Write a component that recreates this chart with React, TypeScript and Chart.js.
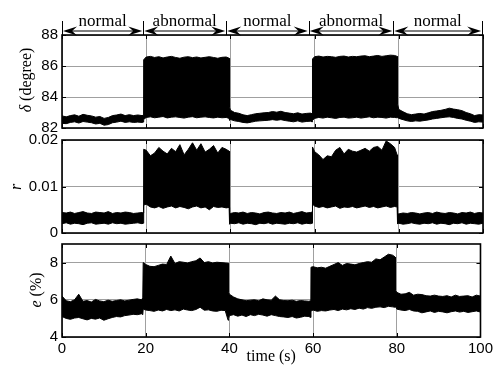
import React, { useEffect, useRef } from 'react';
import { Chart, registerables } from 'chart.js';

Chart.register(...registerables);

// ---------------- data ----------------
const timeS = [
  0, 1, 2, 3, 4, 5, 6, 7, 8, 9, 10, 11, 12, 13, 14, 15, 16, 17, 18, 19, 19.3,
  19.4, 20, 21, 22, 23, 24, 25, 26, 27, 28, 29, 30, 31, 32, 33, 34, 35, 36, 37, 38, 39, 39.7,
  39.8, 40, 41, 42, 43, 44, 45, 46, 47, 48, 49, 50, 51, 52, 53, 54, 55, 56, 57, 58, 59, 59.4,
  59.5, 60, 61, 62, 63, 64, 65, 66, 67, 68, 69, 70, 71, 72, 73, 74, 75, 76, 77, 78, 79, 79.6,
  79.7, 80, 81, 82, 83, 84, 85, 86, 87, 88, 89, 90, 91, 92, 93, 94, 95, 96, 97, 98, 99, 100,
];

// delta (degree): upper / lower envelope of the signal
const deltaUpper = [
  82.78, 82.72, 82.80, 82.85, 82.76, 82.88, 82.82, 82.78, 82.70, 82.74, 82.62, 82.68, 82.80, 82.84, 82.90, 82.80, 82.86, 82.80, 82.84, 82.80, 82.82,
  86.40, 86.58, 86.62, 86.55, 86.60, 86.52, 86.58, 86.62, 86.55, 86.50, 86.57, 86.60, 86.54, 86.58, 86.52, 86.56, 86.60, 86.55, 86.50, 86.56, 86.58, 86.50,
  83.35, 83.15, 83.00, 82.95, 82.85, 82.80, 82.86, 82.92, 82.95, 82.98, 83.00, 83.06, 83.02, 83.08, 83.00, 82.96, 82.92, 82.98, 82.90, 82.94, 82.96, 82.92,
  86.45, 86.60, 86.64, 86.58, 86.62, 86.60, 86.56, 86.62, 86.64, 86.58, 86.62, 86.60, 86.64, 86.66, 86.60, 86.64, 86.68, 86.62, 86.66, 86.70, 86.68, 86.62,
  83.55, 83.20, 83.05, 82.92, 82.86, 82.90, 82.94, 82.90, 82.98, 83.06, 83.10, 83.14, 83.20, 83.28, 83.22, 83.18, 83.12, 83.00, 82.92, 82.80, 82.86, 82.84,
];
const deltaLower = [
  82.30, 82.28, 82.36, 82.40, 82.32, 82.42, 82.38, 82.34, 82.26, 82.30, 82.18, 82.22, 82.34, 82.38, 82.44, 82.36, 82.40, 82.36, 82.38, 82.36, 82.38,
  82.55, 82.68, 82.72, 82.66, 82.70, 82.74, 82.65, 82.70, 82.72, 82.68, 82.64, 82.70, 82.73, 82.66, 82.70, 82.72, 82.68, 82.65, 82.70, 82.66, 82.68, 82.62,
  82.50, 82.55, 82.46, 82.42, 82.36, 82.33, 82.38, 82.44, 82.46, 82.48, 82.50, 82.54, 82.50, 82.54, 82.48, 82.44, 82.40, 82.46, 82.38, 82.42, 82.44, 82.40,
  82.50, 82.62, 82.68, 82.64, 82.70, 82.66, 82.62, 82.68, 82.70, 82.64, 82.66, 82.70, 82.64, 82.68, 82.72, 82.66, 82.70, 82.68, 82.64, 82.70, 82.68, 82.66,
  82.70, 82.62, 82.54, 82.46, 82.42, 82.46, 82.44, 82.48, 82.52, 82.58, 82.62, 82.66, 82.70, 82.72, 82.68, 82.62, 82.58, 82.50, 82.44, 82.36, 82.40, 82.38,
];

// r: upper / lower envelope
const rUpper = [
  0.0044, 0.0043, 0.0045, 0.0042, 0.0044, 0.0046, 0.0043, 0.0042, 0.0045, 0.0044, 0.0043, 0.0046, 0.0042, 0.0044, 0.0043, 0.0045, 0.0044, 0.0042, 0.0043, 0.0044, 0.0043,
  0.0180, 0.0178, 0.0166, 0.0172, 0.0184, 0.0176, 0.0170, 0.0182, 0.0175, 0.0190, 0.0168, 0.0180, 0.0194, 0.0178, 0.0192, 0.0174, 0.0180, 0.0188, 0.0172, 0.0184, 0.0180, 0.0176,
  0.0043, 0.0042, 0.0044, 0.0043, 0.0045, 0.0042, 0.0044, 0.0043, 0.0041, 0.0044, 0.0045, 0.0043, 0.0042, 0.0044, 0.0043, 0.0045, 0.0042, 0.0044, 0.0046, 0.0043, 0.0044, 0.0045,
  0.0185, 0.0175, 0.0168, 0.0158, 0.0166, 0.0164, 0.0178, 0.0184, 0.0170, 0.0180, 0.0176, 0.0174, 0.0178, 0.0182, 0.0176, 0.0184, 0.0186, 0.0178, 0.0198, 0.0192, 0.0184, 0.0168,
  0.0042, 0.0041, 0.0043, 0.0042, 0.0044, 0.0043, 0.0041, 0.0043, 0.0044, 0.0042, 0.0045, 0.0043, 0.0042, 0.0044, 0.0043, 0.0041, 0.0044, 0.0043, 0.0045, 0.0042, 0.0044, 0.0043,
];
const rLower = [
  0.0020, 0.0022, 0.0019, 0.0021, 0.0020, 0.0018, 0.0021, 0.0022, 0.0019, 0.0020, 0.0021, 0.0019, 0.0022, 0.0020, 0.0021, 0.0019, 0.0020, 0.0021, 0.0022, 0.0020, 0.0021,
  0.0060, 0.0062, 0.0056, 0.0054, 0.0057, 0.0053, 0.0056, 0.0058, 0.0054, 0.0057, 0.0055, 0.0052, 0.0056, 0.0058, 0.0054, 0.0056, 0.0050, 0.0057, 0.0055, 0.0056, 0.0054, 0.0055,
  0.0019, 0.0021, 0.0020, 0.0022, 0.0019, 0.0021, 0.0020, 0.0018, 0.0021, 0.0020, 0.0022, 0.0019, 0.0021, 0.0020, 0.0019, 0.0021, 0.0020, 0.0022, 0.0019, 0.0021, 0.0020, 0.0021,
  0.0062, 0.0058, 0.0055, 0.0057, 0.0054, 0.0056, 0.0058, 0.0053, 0.0056, 0.0055, 0.0057, 0.0054, 0.0056, 0.0058, 0.0055, 0.0057, 0.0054, 0.0056, 0.0058, 0.0055, 0.0057, 0.0056,
  0.0020, 0.0021, 0.0019, 0.0020, 0.0022, 0.0020, 0.0019, 0.0021, 0.0020, 0.0022, 0.0019, 0.0021, 0.0020, 0.0018, 0.0021, 0.0020, 0.0022, 0.0019, 0.0021, 0.0020, 0.0019, 0.0021,
];

// e (%): upper / lower envelope
const eUpper = [
  6.20, 5.95, 5.90, 6.00, 6.30, 5.92, 5.96, 5.88, 6.02, 5.94, 5.90, 5.98, 5.92, 5.96, 6.00, 5.94, 5.98, 6.02, 6.05, 6.00, 6.10,
  8.00, 7.90, 7.80, 7.78, 7.85, 7.92, 7.90, 8.35, 7.95, 8.05, 8.02, 7.98, 8.05, 8.10, 8.25, 8.00, 8.05, 7.98, 8.02, 8.00, 7.98, 7.96,
  6.40, 6.30, 6.15, 6.05, 6.00, 5.95, 5.98, 6.00, 5.95, 6.05, 6.00, 5.98, 6.20, 6.00, 5.96, 5.95, 5.98, 5.92, 5.96, 5.94, 5.92, 5.95,
  7.75, 7.78, 7.72, 7.75, 7.70, 7.80, 7.90, 8.00, 7.85, 7.95, 7.92, 7.88, 7.95, 8.00, 8.05, 8.02, 8.20, 8.15, 8.30, 8.45, 8.40, 8.30,
  6.50, 6.40, 6.30, 6.32, 6.40, 6.25, 6.30, 6.28, 6.22, 6.20, 6.25, 6.20, 6.18, 6.22, 6.15, 6.25, 6.18, 6.20, 6.22, 6.15, 6.25, 6.20,
];
const eLower = [
  5.10, 5.00, 4.95, 5.02, 5.05, 4.98, 4.92, 5.00, 4.96, 5.02, 4.90, 4.98, 5.05, 5.10, 5.08, 5.15, 5.18, 5.22, 5.20, 5.25, 5.20,
  5.50, 5.45, 5.42, 5.38, 5.45, 5.40, 5.48, 5.42, 5.46, 5.40, 5.50, 5.45, 5.42, 5.48, 5.60, 5.44, 5.46, 5.40, 5.38, 5.44, 5.42, 4.90,
  5.00, 5.15, 5.20, 5.12, 5.18, 5.10, 5.20, 5.15, 5.22, 5.18, 5.12, 5.20, 5.15, 5.10, 5.08, 5.05, 5.10, 5.02, 5.06, 5.12, 5.10, 5.05,
  5.40, 5.45, 5.38, 5.42, 5.40, 5.45, 5.48, 5.42, 5.50, 5.46, 5.52, 5.48, 5.55, 5.50, 5.58, 5.54, 5.60, 5.62, 5.58, 5.65, 5.62, 5.60,
  5.70, 5.50, 5.45, 5.42, 5.48, 5.40, 5.38, 5.30, 5.35, 5.40, 5.32, 5.38, 5.35, 5.30, 5.36, 5.40, 5.34, 5.38, 5.32, 5.36, 5.40, 5.34,
];

// ticks
const timeTicks = [0, 20, 40, 60, 80, 100];
const deltaTicks = [82, 84, 86, 88];
const rTicks = [0, 0.01, 0.02];
const eTicks = [4, 6, 8];

// state annotation along the top
const stateBounds = [0, 19.3, 39, 58.6, 78.7, 99.8];
const stateLabels = ['normal', 'abnormal', 'normal', 'abnormal', 'normal'];

// ---------------- layout / style ----------------
const W = 496;
const H = 368;
const PLOT_LEFT = 62;
const PLOT_RIGHT = 483;
const GRID = '#a0a0a0';
const SANS = "'Liberation Sans', Arial, sans-serif";
const SERIF = "'Liberation Serif', 'Times New Roman', serif";

type Seg = [string, boolean];
interface Panel {
  top: number;
  bottom: number;
  xAxisHeight: number;
  showX: boolean;
  min: number;
  max: number;
  ticks: number[];
  upper: number[];
  lower: number[];
  title: Seg[];
  titleX: number;
  titleY: number;
  annotate: boolean;
}

const panels: Panel[] = [
  { top: 35, bottom: 128, xAxisHeight: 0, showX: false, min: 82, max: 88, ticks: deltaTicks, upper: deltaUpper, lower: deltaLower,
    title: [['δ', true], [' (degree)', false]], titleX: 27, titleY: 80, annotate: true },
  { top: 140, bottom: 233, xAxisHeight: 0, showX: false, min: 0, max: 0.02, ticks: rTicks, upper: rUpper, lower: rLower,
    title: [['r', true]], titleX: 17, titleY: 187, annotate: false },
  { top: 244, bottom: 337, xAxisHeight: 31, showX: true, min: 4, max: 9, ticks: eTicks, upper: eUpper, lower: eLower,
    title: [['e', true], [' (%)', false]], titleX: 37, titleY: 290, annotate: false },
];

function arrowHead(ctx: CanvasRenderingContext2D, tipX: number, y: number, dir: number) {
  const len = 14;
  const hw = 4.5;
  ctx.beginPath();
  ctx.moveTo(tipX, y);
  ctx.lineTo(tipX + dir * len, y - hw);
  ctx.lineTo(tipX + dir * len * 0.65, y);
  ctx.lineTo(tipX + dir * len, y + hw);
  ctx.closePath();
  ctx.fill();
}

function makeChart(canvas: HTMLCanvasElement, p: Panel) {
  const framePlugin = {
    id: 'frameAndTitle',
    afterDraw(chart: any) {
      const { ctx, chartArea: a, scales } = chart;
      ctx.save();
      ctx.strokeStyle = '#000';
      ctx.lineWidth = 1;
      const tl = 4;
      timeTicks.forEach((v) => {
        const px = Math.round(scales.x.getPixelForValue(v)) + 0.5;
        ctx.beginPath();
        ctx.moveTo(px, a.top); ctx.lineTo(px, a.top + tl);
        ctx.moveTo(px, a.bottom); ctx.lineTo(px, a.bottom - tl);
        ctx.stroke();
      });
      p.ticks.forEach((v) => {
        const py = Math.round(scales.y.getPixelForValue(v)) + 0.5;
        ctx.beginPath();
        ctx.moveTo(a.left, py); ctx.lineTo(a.left + tl, py);
        ctx.moveTo(a.right, py); ctx.lineTo(a.right - tl, py);
        ctx.stroke();
      });
      ctx.lineWidth = 1.6;
      ctx.strokeRect(a.left, a.top, a.right - a.left, a.bottom - a.top);

      // y-axis title (mixed italic / upright)
      ctx.fillStyle = '#000';
      ctx.translate(p.titleX, p.titleY);
      ctx.rotate(-Math.PI / 2);
      ctx.textBaseline = 'middle';
      ctx.textAlign = 'left';
      const fonts = p.title.map(([, it]) => `${it ? 'italic ' : ''}16px ${SERIF}`);
      let total = 0;
      p.title.forEach(([t], i) => { ctx.font = fonts[i]; total += ctx.measureText(t).width; });
      let x = -total / 2;
      p.title.forEach(([t], i) => {
        ctx.font = fonts[i];
        ctx.fillText(t, x, 0);
        x += ctx.measureText(t).width;
      });
      ctx.restore();

      if (p.annotate) {
        const xs = stateBounds.map((v) => scales.x.getPixelForValue(v));
        const yA = 31;
        ctx.save();
        ctx.strokeStyle = '#000';
        ctx.fillStyle = '#000';
        ctx.lineWidth = 1;
        xs.forEach((px) => {
          const sx = Math.round(px) + 0.5;
          ctx.beginPath();
          ctx.moveTo(sx, 21);
          ctx.lineTo(sx, a.top);
          ctx.stroke();
        });
        ctx.font = `17px ${SERIF}`;
        ctx.textAlign = 'center';
        ctx.textBaseline = 'alphabetic';
        for (let i = 0; i < stateLabels.length; i++) {
          const x0 = xs[i] + 1;
          const x1 = xs[i + 1] - 1;
          ctx.lineWidth = 1.2;
          ctx.beginPath();
          ctx.moveTo(x0 + 8, yA);
          ctx.lineTo(x1 - 8, yA);
          ctx.stroke();
          arrowHead(ctx, x0, yA, 1);
          arrowHead(ctx, x1, yA, -1);
          ctx.fillText(stateLabels[i], (xs[i] + xs[i + 1]) / 2, 26);
        }
        ctx.restore();
      }
    },
  };

  const upperData = timeS.map((t, i) => ({ x: t, y: p.upper[i] }));
  const lowerData = timeS.map((t, i) => ({ x: t, y: p.lower[i] }));

  return new Chart(canvas, {
    type: 'line',
    data: {
      datasets: [
        { data: upperData, borderColor: '#000', borderWidth: 1, pointRadius: 0, fill: false, tension: 0 },
        { data: lowerData, borderColor: '#000', borderWidth: 1, pointRadius: 0, fill: '-1', backgroundColor: '#000', tension: 0 },
      ],
    },
    options: {
      animation: false,
      responsive: false,
      events: [],
      layout: { padding: { top: p.top, left: 0, right: W - PLOT_RIGHT, bottom: H - p.bottom - p.xAxisHeight } },
      plugins: { legend: { display: false }, tooltip: { enabled: false } },
      scales: {
        x: {
          type: 'linear',
          min: 0,
          max: 100,
          afterBuildTicks: (ax: any) => { ax.ticks = timeTicks.map((v) => ({ value: v })); },
          afterFit: (ax: any) => { ax.height = p.xAxisHeight; },
          grid: { color: GRID, lineWidth: 1, drawTicks: false },
          border: { display: false },
          ticks: {
            display: p.showX,
            color: '#000',
            font: { family: SANS, size: 15 },
            padding: 3,
            maxRotation: 0,
            autoSkip: false,
            callback: (v: any) => String(v),
          },
          title: {
            display: p.showX,
            text: 'time (s)',
            color: '#000',
            font: { family: SERIF, size: 16 },
            padding: { top: 0, bottom: 1.5 },
          },
        },
        y: {
          type: 'linear',
          min: p.min,
          max: p.max,
          afterBuildTicks: (ax: any) => { ax.ticks = p.ticks.map((v) => ({ value: v })); },
          afterFit: (ax: any) => { ax.width = PLOT_LEFT; },
          grid: { color: GRID, lineWidth: 1, drawTicks: false },
          border: { display: false },
          ticks: {
            color: '#000',
            font: { family: SANS, size: 15 },
            padding: 4,
            autoSkip: false,
            callback: (v: any) => String(v),
          },
        },
      },
    } as any,
    plugins: [framePlugin],
  } as any);
}

export default function App() {
  const r1 = useRef<HTMLCanvasElement>(null);
  const r2 = useRef<HTMLCanvasElement>(null);
  const r3 = useRef<HTMLCanvasElement>(null);

  useEffect(() => {
    const refs = [r1, r2, r3];
    const charts = refs.map((r, i) => makeChart(r.current as HTMLCanvasElement, panels[i]));
    return () => charts.forEach((c) => c.destroy());
  }, []);

  const cs: React.CSSProperties = { position: 'absolute', left: 0, top: 0, width: W, height: H };
  return (
    <div style={{ position: 'absolute', left: 0, top: 0, width: W, height: H, background: '#fff', overflow: 'hidden' }}>
      <canvas ref={r1} width={W} height={H} style={cs} />
      <canvas ref={r2} width={W} height={H} style={cs} />
      <canvas ref={r3} width={W} height={H} style={cs} />
    </div>
  );
}
